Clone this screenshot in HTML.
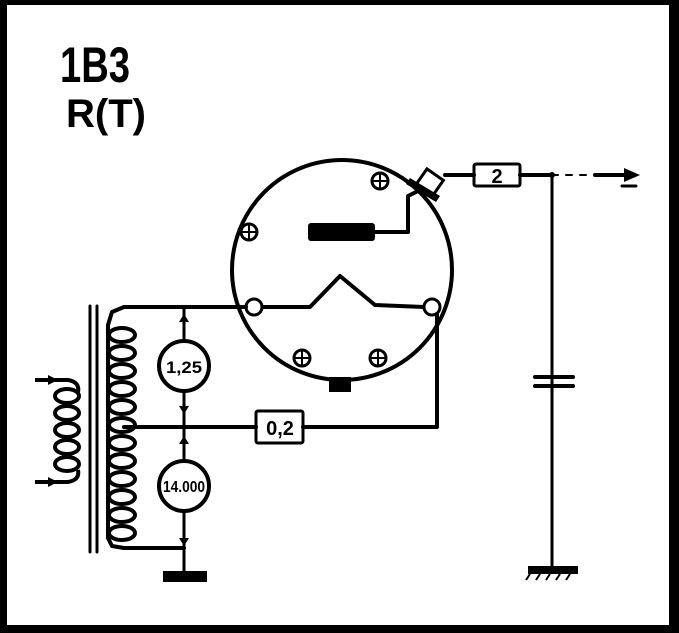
<!DOCTYPE html>
<html><head><style>
html,body{margin:0;padding:0;background:#fff;width:679px;height:633px;overflow:hidden}
svg{display:block}
text{font-family:"Liberation Sans",sans-serif;font-weight:bold}
</style></head><body>
<svg width="679" height="633" viewBox="0 0 679 633" xmlns="http://www.w3.org/2000/svg">
<rect x="0" y="0" width="679" height="633" fill="#fff"/>
<rect x="0" y="0" width="679" height="5" fill="#000"/>
<rect x="0" y="0" width="7" height="633" fill="#000"/>
<rect x="669" y="0" width="10" height="633" fill="#000"/>
<rect x="0" y="625" width="679" height="8" fill="#000"/>
<text x="60" y="82" font-size="50" textLength="70" lengthAdjust="spacingAndGlyphs">1B3</text>
<text x="66" y="127" font-size="40" textLength="80" lengthAdjust="spacingAndGlyphs">R(T)</text>

<g stroke="#000" stroke-width="4" fill="none" stroke-linecap="round" stroke-linejoin="round">
<circle cx="342" cy="270" r="110"/>
<polyline points="262,307 310,307 340,276 375,305 424,307"/>
<polyline points="375,232 408,232 408,196 420,190"/>
<circle cx="254" cy="307" r="8" stroke-width="3" fill="#fff"/>
<circle cx="432" cy="307" r="8" stroke-width="3" fill="#fff"/>
<line x1="445" y1="175" x2="474" y2="175"/>
<rect x="474" y="164" width="46" height="22" rx="2" stroke-width="3"/>
<line x1="520" y1="175" x2="552" y2="175"/>
<line x1="552" y1="175" x2="590" y2="175" stroke-dasharray="6 8" stroke-width="2"/>
<line x1="595" y1="175" x2="630" y2="175"/>
<line x1="552" y1="175" x2="552" y2="567" stroke-width="3"/>
<line x1="535" y1="377" x2="573" y2="377" stroke-width="4"/>
<line x1="535" y1="386" x2="573" y2="386" stroke-width="4"/>
<line x1="622" y1="186" x2="636" y2="186" stroke-width="3"/>
<polyline points="124,307 246,307"/>
<polyline points="124,548 184,548"/>
<line x1="184" y1="307" x2="184" y2="576" stroke-width="3"/>
<polyline points="124,427 256,427"/>
<rect x="256" y="411" width="47" height="32" rx="2" stroke-width="3"/>
<polyline points="303,427 437,427 437,314"/>
<line x1="90" y1="306" x2="90" y2="552" stroke-width="3"/>
<line x1="97" y1="306" x2="97" y2="552" stroke-width="3"/>
<polyline points="124,307 112,312 108,325 108,538 112,546 124,548" stroke-width="4"/>
</g>
<g stroke="#000" stroke-width="4" fill="none">
<ellipse cx="122" cy="335" rx="13" ry="7"/>
<ellipse cx="122" cy="353" rx="13" ry="7"/>
<ellipse cx="122" cy="371" rx="13" ry="7"/>
<ellipse cx="122" cy="389" rx="13" ry="7"/>
<ellipse cx="122" cy="407" rx="13" ry="7"/>
<ellipse cx="122" cy="425" rx="13" ry="7"/>
<ellipse cx="122" cy="443" rx="13" ry="7"/>
<ellipse cx="122" cy="461" rx="13" ry="7"/>
<ellipse cx="122" cy="479" rx="13" ry="7"/>
<ellipse cx="122" cy="497" rx="13" ry="7"/>
<ellipse cx="122" cy="515" rx="13" ry="7"/>
<ellipse cx="122" cy="533" rx="13" ry="7"/>
<ellipse cx="67" cy="396" rx="12" ry="7"/>
<ellipse cx="67" cy="413" rx="12" ry="7"/>
<ellipse cx="67" cy="430" rx="12" ry="7"/>
<ellipse cx="67" cy="447" rx="12" ry="7"/>
<ellipse cx="67" cy="464" rx="12" ry="7"/>
<path d="M35,380 L68,380 Q80,382 78,392 M35,482 L68,482 Q80,480 78,470"/>
</g>
<g fill="#000">
<polygon points="48,375 58,380 48,385"/>
<polygon points="48,477 58,482 48,487"/>
<circle cx="184" cy="366" r="25" fill="#fff" stroke="#000" stroke-width="4"/>
<circle cx="184" cy="486" r="25" fill="#fff" stroke="#000" stroke-width="4"/>
<polygon points="179,322 184,314 189,322"/>
<polygon points="179,406 184,414 189,406"/>
<polygon points="179,444 184,436 189,444"/>
<polygon points="179,538 184,546 189,538"/>
<rect x="308" y="223" width="67" height="18" rx="3"/>
<rect x="329" y="377" width="22" height="15"/>
<g transform="translate(430,182) rotate(35)">
<rect x="-10" y="-9" width="20" height="18" fill="#fff" stroke="#000" stroke-width="3"/>
</g>
<polygon points="410,178 440,196 436,202 406,184"/>
<polygon points="624,168 640,175 624,182"/>
<circle cx="552" cy="175" r="3"/>
<rect x="163" y="571" width="44" height="11"/>
<rect x="528" y="566" width="50" height="8"/>
</g>
<g stroke="#000" stroke-width="2">
<line x1="530" y1="574" x2="526" y2="580"/><line x1="540" y1="574" x2="536" y2="580"/>
<line x1="550" y1="574" x2="546" y2="580"/><line x1="560" y1="574" x2="556" y2="580"/>
<line x1="570" y1="574" x2="566" y2="580"/>
</g>
<g stroke="#000" stroke-width="3" fill="none">
<circle cx="380" cy="181" r="8"/><path d="M372,181h16M380,173v16" stroke-width="2"/>
<circle cx="249" cy="232" r="8"/><path d="M241,232h16M249,224v16" stroke-width="2"/>
<circle cx="302" cy="358" r="8"/><path d="M294,358h16M302,350v16" stroke-width="2"/>
<circle cx="378" cy="358" r="8"/><path d="M370,358h16M378,350v16" stroke-width="2"/>
</g>
<g font-family="Liberation Sans,sans-serif" font-weight="bold" text-anchor="middle">
<text x="497" y="183" font-size="20">2</text>
<text x="280" y="435" font-size="20">0,2</text>
<text x="184" y="373" font-size="17" textLength="36" lengthAdjust="spacingAndGlyphs">1,25</text>
<text x="184" y="492" font-size="16" textLength="42" lengthAdjust="spacingAndGlyphs">14.000</text>
</g>
</svg>
</body></html>
